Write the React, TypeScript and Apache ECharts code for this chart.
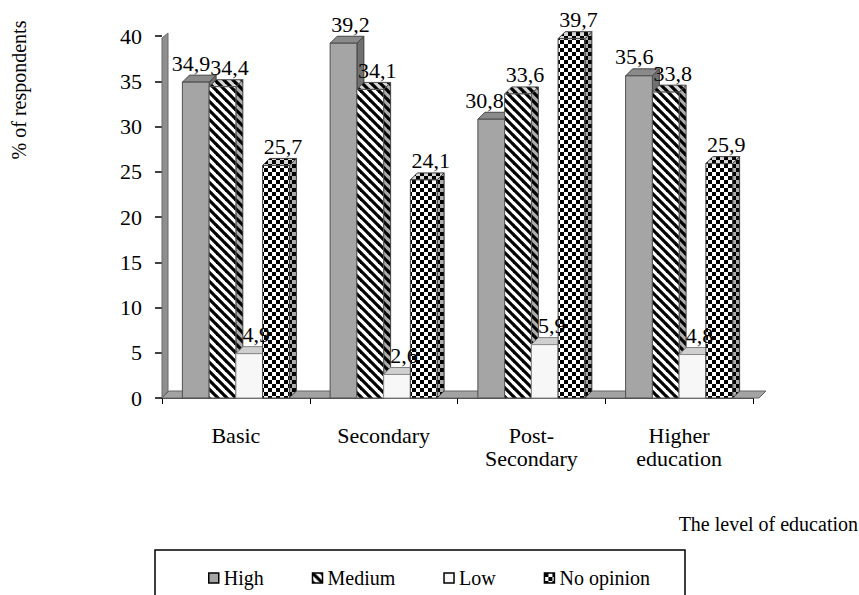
import React, { useEffect, useRef } from 'react';
import * as echarts from 'echarts';

// Education levels on the category axis
const categories = ['Basic', 'Secondary', 'Post-\nSecondary', 'Higher\neducation'];
// Answer groups (legend order)
const seriesNames = ['High', 'Medium', 'Low', 'No opinion'];
// Share of respondents, %, per education level
const high = [34.9, 39.2, 30.8, 35.6];
const medium = [34.4, 34.1, 33.6, 33.8];
const low = [4.9, 2.6, 5.9, 4.8];
const noOpinion = [25.7, 24.1, 39.7, 25.9];
const seriesValues = [high, medium, low, noOpinion];
// Value axis range and step
const yMin = 0;
const yMax = 40;
const yStep = 5;

const FAMILY = 'Liberation Serif';
const SERIF = "'Liberation Serif', serif";
const LABEL_SIZE = 22;
const LABEL_H = 22;
const DX = 7; // depth offset of the 3D boxes
const DY = 7;
const BAR_RATIO = 0.181; // bar width as share of the category band
const LABEL_DX = 7;

const fmt = (v: number) => String(v).replace('.', ',');

let measureCtx: CanvasRenderingContext2D | null = null;
function textWidth(t: string): number {
  if (!measureCtx) {
    const c = document.createElement('canvas');
    measureCtx = c.getContext('2d');
  }
  if (!measureCtx) return t.length * LABEL_SIZE * 0.5;
  measureCtx.font = `${LABEL_SIZE}px ${SERIF}`;
  return measureCtx.measureText(t).width;
}

function tile(size: number, draw: (ctx: CanvasRenderingContext2D, n: number) => void) {
  const c = document.createElement('canvas');
  c.width = size;
  c.height = size;
  const ctx = c.getContext('2d')!;
  draw(ctx, size);
  return { image: c.toDataURL(), repeat: 'repeat', imageWidth: size, imageHeight: size } as any;
}

function makeFills() {
  const stripes = tile(9, (ctx, n) => {
    ctx.fillStyle = '#ffffff';
    ctx.fillRect(0, 0, n, n);
    ctx.strokeStyle = '#000000';
    ctx.lineWidth = 3.2;
    for (const o of [-n, 0, n]) {
      ctx.beginPath();
      ctx.moveTo(o - 1, -1);
      ctx.lineTo(o + n + 1, n + 1);
      ctx.stroke();
    }
  });
  const checker = tile(8, (ctx, n) => {
    ctx.fillStyle = '#ffffff';
    ctx.fillRect(0, 0, n, n);
    ctx.fillStyle = '#000000';
    ctx.fillRect(0, 0, n / 2, n / 2);
    ctx.fillRect(n / 2, n / 2, n / 2, n / 2);
  });
  return [
    { fill: '#a5a5a5', stroke: '#4f4f4f' },
    { fill: stripes, stroke: '#555555' },
    { fill: '#f7f7f7', stroke: '#8a8a8a' },
    { fill: checker, stroke: '#444444' },
  ];
}

function barGeom(api: any, i: number, s: number, v: number) {
  const base = api.coord([i, 0]);
  const top = api.coord([i, v]);
  const band = api.size([1, 0])[0];
  const w = band * BAR_RATIO;
  const x = base[0] - 2 * w + s * w;
  return { x, w, y0: base[1], y1: top[1] };
}

// Value label box for series s in group i. A label that would run into the
// next box is moved left of it (unless that puts it over the previous box);
// a label that would run into the next label is placed just before it.
function labelBox(api: any, i: number, s: number): { text: string; tw: number; cx: number; cy: number } {
  const v = seriesValues[s][i];
  const g = barGeom(api, i, s, v);
  const text = fmt(v);
  const tw = textWidth(text);
  let cx = g.x + g.w / 2 + LABEL_DX;
  const cy = g.y1 - DY - 12;
  const bottom = cy + LABEL_H / 2;
  const n = s + 1;
  if (n < seriesValues.length) {
    const ng = barGeom(api, i, n, seriesValues[n][i]);
    if (bottom > ng.y1 - DY && cx + tw / 2 > ng.x) {
      const moved = ng.x - tw / 2 - 1;
      let blocked = false;
      if (s > 0) {
        const pg = barGeom(api, i, s - 1, seriesValues[s - 1][i]);
        blocked = bottom > pg.y1 - DY && moved - tw / 2 < pg.x + pg.w + DX;
      }
      if (!blocked) cx = moved;
    }
    const nl = labelBox(api, i, n);
    if (Math.abs(nl.cy - cy) < LABEL_H && cx + tw / 2 > nl.cx - nl.tw / 2) {
      cx = nl.cx - nl.tw / 2 - tw / 2;
    }
  }
  return { text, tw, cx, cy };
}

export default function App() {
  const ref = useRef<HTMLDivElement>(null);

  useEffect(() => {
    if (!ref.current) return;
    const chart = echarts.init(ref.current, undefined, { renderer: 'svg' });
    const fills = makeFills();

    const barSeries = seriesNames.map((name, s) => ({
      type: 'custom',
      name,
      z: 2,
      itemStyle: { color: fills[s].fill },
      encode: { x: 0, y: 1 },
      data: seriesValues[s].map((v, i) => [i, v]),
      renderItem: (_params: any, api: any) => {
        const i = api.value(0) as number;
        const v = api.value(1) as number;
        const { x, w, y0, y1 } = barGeom(api, i, s, v);
        const st = fills[s];
        const topFace = [[x, y1], [x + DX, y1 - DY], [x + w + DX, y1 - DY], [x + w, y1]];
        const sideFace = [[x + w, y1], [x + w + DX, y1 - DY], [x + w + DX, y0 - DY], [x + w, y0]];
        return {
          type: 'group',
          children: [
            { type: 'polygon', shape: { points: sideFace }, style: { fill: st.fill, stroke: st.stroke, lineWidth: 1 } },
            { type: 'polygon', shape: { points: sideFace }, style: { fill: 'rgba(0,0,0,0.32)' } },
            { type: 'polygon', shape: { points: topFace }, style: { fill: st.fill, stroke: st.stroke, lineWidth: 1 } },
            { type: 'polygon', shape: { points: topFace }, style: { fill: 'rgba(0,0,0,0.16)' } },
            {
              type: 'rect',
              shape: { x, y: y1, width: w, height: y0 - y1 },
              style: { fill: st.fill, stroke: st.stroke, lineWidth: 1 },
            },
          ],
        };
      },
    }));

    // Value labels, drawn above every box
    const labelData: number[][] = [];
    seriesValues.forEach((vals, s) => vals.forEach((v, i) => labelData.push([i, v, s])));
    const labelSeries = {
      type: 'custom',
      name: 'values',
      z: 5,
      silent: true,
      encode: { x: 0, y: 1 },
      data: labelData,
      renderItem: (_params: any, api: any) => {
        const i = api.value(0) as number;
        const s = api.value(2) as number;
        const lab = labelBox(api, i, s);
        return {
          type: 'text',
          x: lab.cx,
          y: lab.cy,
          style: {
            text: lab.text,
            font: `${LABEL_SIZE}px ${SERIF}`,
            fill: '#000',
            align: 'center',
            verticalAlign: 'middle',
          },
        };
      },
    };

    // Back wall and floor of the 3D plot area
    const frameSeries = {
      type: 'custom',
      name: 'frame',
      z: 1,
      silent: true,
      data: [[0, 0]],
      encode: { x: 0, y: 1 },
      renderItem: (params: any) => {
        const cs = params.coordSys;
        const x0 = cs.x;
        const x1 = cs.x + cs.width;
        const yb = cs.y + cs.height;
        const yt = cs.y;
        return {
          type: 'group',
          children: [
            {
              type: 'polygon',
              shape: { points: [[x0, yb], [x0, yt + 2], [x0 + DX - 1, yt + 4 - DY], [x0 + DX - 1, yb - DY]] },
              style: { fill: '#8f8f8f', stroke: '#6a6a6a', lineWidth: 1 },
            },
            {
              type: 'polygon',
              shape: { points: [[x0, yb], [x0 + DX, yb - DY], [x1 + DX + 6, yb - DY], [x1 + 6, yb]] },
              style: { fill: '#a3a3a3', stroke: '#666666', lineWidth: 1 },
            },
          ],
        };
      },
    };

    chart.setOption({
      animation: false,
      textStyle: { fontFamily: FAMILY, color: '#000' },
      grid: { left: 162, right: 106, top: 36, bottom: 197 },
      xAxis: {
        type: 'category',
        data: categories,
        boundaryGap: true,
        axisLine: { show: true, lineStyle: { color: '#444', width: 1 } },
        axisTick: { show: true, length: 6, lineStyle: { color: '#000', width: 1 } },
        axisLabel: { fontSize: LABEL_SIZE, lineHeight: 23, margin: 26, color: '#000', fontFamily: FAMILY },
        splitLine: { show: false },
      },
      yAxis: {
        type: 'value',
        min: yMin,
        max: yMax,
        interval: yStep,
        axisLine: { show: false },
        axisTick: { show: true, length: 7, lineStyle: { color: '#000', width: 1.5 } },
        axisLabel: { fontSize: LABEL_SIZE, margin: 20, color: '#000', fontFamily: FAMILY },
        splitLine: { show: false },
      },
      legend: {
        data: seriesNames.map((name, s) => ({
          name,
          itemStyle: { color: fills[s].fill, borderColor: '#000', borderWidth: 1.5 },
        })),
        icon: 'rect',
        left: 203,
        top: 563,
        itemWidth: 10,
        itemHeight: 10,
        itemGap: 48,
        selectedMode: false,
        textStyle: { fontSize: 20, fontFamily: FAMILY, color: '#000' },
      },
      graphic: [
        {
          type: 'text',
          x: 19,
          y: 90,
          rotation: Math.PI / 2,
          style: {
            text: '% of respondents',
            font: `20px ${SERIF}`,
            fill: '#000',
            align: 'center',
            verticalAlign: 'middle',
          },
        },
        {
          type: 'text',
          x: 858,
          y: 524,
          style: {
            text: 'The level of education',
            font: `20px ${SERIF}`,
            fill: '#000',
            align: 'right',
            verticalAlign: 'middle',
          },
        },
        {
          type: 'rect',
          shape: { x: 155, y: 550, width: 530, height: 70 },
          style: { fill: 'none', stroke: '#000', lineWidth: 1.5 },
        },
      ],
      series: [frameSeries, ...barSeries, labelSeries],
    });

    return () => chart.dispose();
  }, []);

  return (
    <div
      ref={ref}
      style={{ position: 'fixed', left: 0, top: 0, width: 859, height: 595, background: '#fff' }}
    />
  );
}
